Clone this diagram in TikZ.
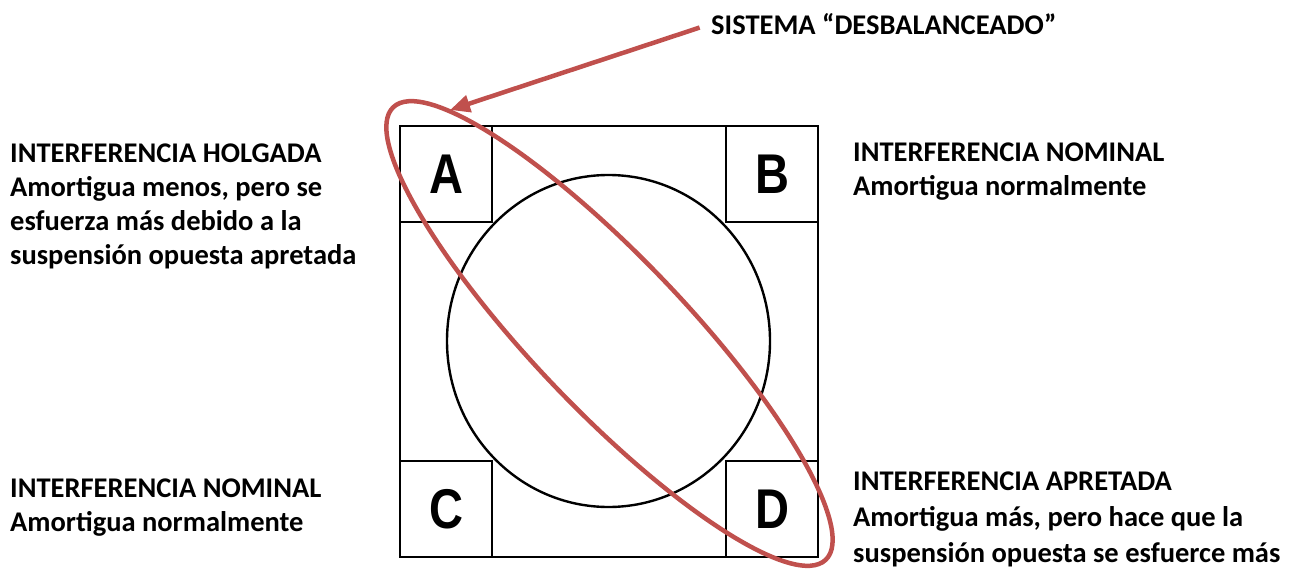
\documentclass[tikz,border=0pt]{standalone}
\usepackage{fontspec}
\setmainfont{Carlito}
\newfontfamily\lettersfont{Liberation Sans}
\usepackage{graphicx}
\usetikzlibrary{arrows.meta,positioning,shapes.geometric}
\definecolor{susInk}{HTML}{000000}
\definecolor{susRed}{HTML}{C0504D}
\newcommand{\narrowltr}[1]{\scalebox{0.84}[1]{#1}}
\tikzset{
  every picture/.style={font=\bfseries\fontsize{28.5}{34}\selectfont, text=susInk},
  sus frame/.style={draw=susInk, line width=2.4pt, inner sep=0pt},
  sus corner/.style={sus frame, minimum width=92pt, minimum height=96pt,
    font=\lettersfont\bfseries\fontsize{56}{56}\selectfont},
  sus note/.style={align=left, inner sep=0pt, anchor=north west},
  sus loose/.style={sus note, font=\bfseries\fontsize{28.5}{36}\selectfont},
  sus ring/.style={draw=susRed, line width=4.5pt},
  sus arrow/.style={-{Triangle[length=20pt,width=17pt]},
    draw=susRed, line width=4.5pt, shorten <=12pt}
}

\begin{document}
\begin{tikzpicture}[x=1pt,y=1pt]
  \useasboundingbox (0,0) rectangle (1298,571);
  % housing and corners
  \node[sus frame, minimum width=418pt, minimum height=431pt] (frame) at (609,229.5) {};
  \node[sus corner, anchor=north west] (A) at (frame.north west) {\narrowltr{A}};
  \node[sus corner, anchor=north east] (B) at (frame.north east) {\narrowltr{B}};
  \node[sus corner, anchor=south west] (C) at (frame.south west) {\narrowltr{C}};
  \node[sus corner, anchor=south east] (D) at (frame.south east) {\narrowltr{D}};
  \node[sus frame, ellipse, minimum width=323pt, minimum height=332pt] (wheel) at (608.5,230) {};
  % diagonal pair
  \coordinate (tilt) at (609.5,237.5);
  \draw[sus ring, rotate around={-46.3:(tilt)}] (tilt) ellipse [x radius=313, y radius=76];
  \node[sus note] (title) at (711,558) {SISTEMA “DESBALANCEADO”};
  \coordinate (tip) at (450,461);
  \draw[sus arrow] (title.west) -- (tip);
  % notes
  \node[sus note] (holgada) at (10,427) {INTERFERENCIA HOLGADA\\Amortigua menos, pero se\\esfuerza más debido a la\\suspensión opuesta apretada};
  \node[sus note] (nominalB) at (853,428) {INTERFERENCIA NOMINAL\\Amortigua normalmente};
  \node[sus note] (nominalC) at (10,92) {INTERFERENCIA NOMINAL\\Amortigua normalmente};
  \node[sus loose] (apretada) at (853,99) {INTERFERENCIA APRETADA\\Amortigua más, pero hace que la\\suspensión opuesta se esfuerce más};
\end{tikzpicture}
\end{document}
